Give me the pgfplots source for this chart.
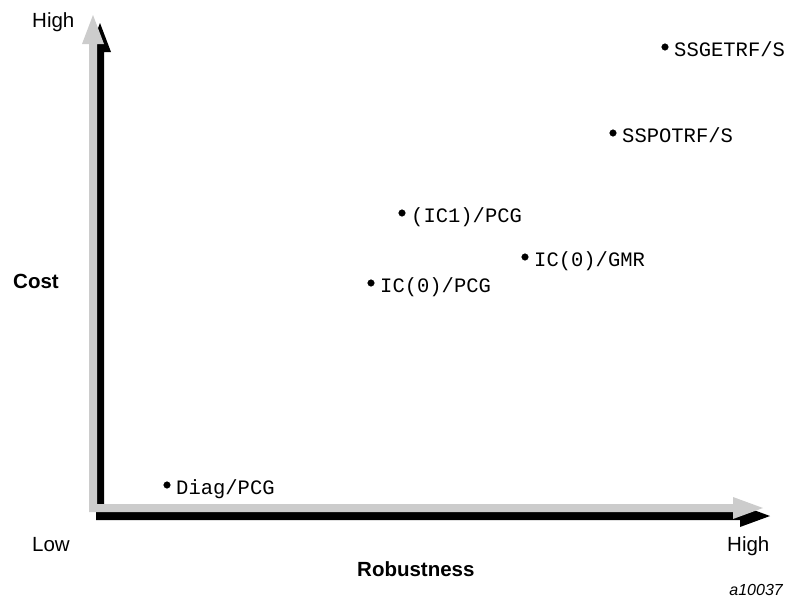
\documentclass[border=0pt]{standalone}
\usepackage{pgfplots}
\pgfplotsset{compat=1.18}
\usepackage{pgfplotstable}
\usepackage{fontspec}
\setmainfont{Liberation Sans}
\newfontfamily\mono{Liberation Mono}
\definecolor{shadowgray}{RGB}{204,204,204}
\pgfplotstableread{
x y label
665 47 SSGETRF/S
613 133 SSPOTRF/S
402 213 (IC1)/PCG
525 257 IC(0)/GMR
371 283 IC(0)/PCG
167 485 Diag/PCG
}\methods
\begin{document}
\begin{tikzpicture}
\begin{axis}[
  scale only axis, width=790pt, height=600pt,
  xmin=0, xmax=790, ymin=0, ymax=600, y dir=reverse,
  hide axis, clip=false,
]
\path (axis cs:0,0) rectangle (axis cs:790,600);
% black shadow arrows
\fill[black] (axis cs:100,23) -- (axis cs:111,52) -- (axis cs:104,52) -- (axis cs:104,512)
  -- (axis cs:740,512) -- (axis cs:740,505) -- (axis cs:770,516) -- (axis cs:740,527)
  -- (axis cs:740,520) -- (axis cs:96,520) -- (axis cs:96,52) -- (axis cs:89,52) -- cycle;
% gray arrows
\fill[shadowgray] (axis cs:93,15) -- (axis cs:104,44) -- (axis cs:97,44) -- (axis cs:97,504)
  -- (axis cs:733,504) -- (axis cs:733,497) -- (axis cs:763,508) -- (axis cs:733,519)
  -- (axis cs:733,512) -- (axis cs:89,512) -- (axis cs:89,44) -- (axis cs:82,44) -- cycle;
\addplot[only marks, mark=*, mark size=3.3pt, black,
  point meta=explicit symbolic,
  nodes near coords,
  every node near coord/.append style={anchor=base west, inner sep=0pt,
    xshift=9pt, yshift=-9pt, font=\mono\fontsize{20.5}{24}\selectfont}]
  table[x=x, y=y, meta=label] {\methods};
\node[anchor=base west, inner sep=0pt, font=\fontsize{20.5}{24}\selectfont] at (axis cs:32,27) {High};
\node[anchor=base west, inner sep=0pt, font=\fontsize{20.5}{24}\selectfont\bfseries] at (axis cs:13,288) {Cost};
\node[anchor=base west, inner sep=0pt, font=\fontsize{20.5}{24}\selectfont] at (axis cs:32,551) {Low};
\node[anchor=base west, inner sep=0pt, font=\fontsize{20.5}{24}\selectfont] at (axis cs:727,551) {High};
\node[anchor=base west, inner sep=0pt, font=\fontsize{20.5}{24}\selectfont\bfseries] at (axis cs:357,576) {Robustness};
\node[anchor=base east, inner sep=0pt, font=\fontsize{16}{19}\selectfont\itshape] at (axis cs:783,595) {a10037};
\end{axis}
\end{tikzpicture}
\end{document}
